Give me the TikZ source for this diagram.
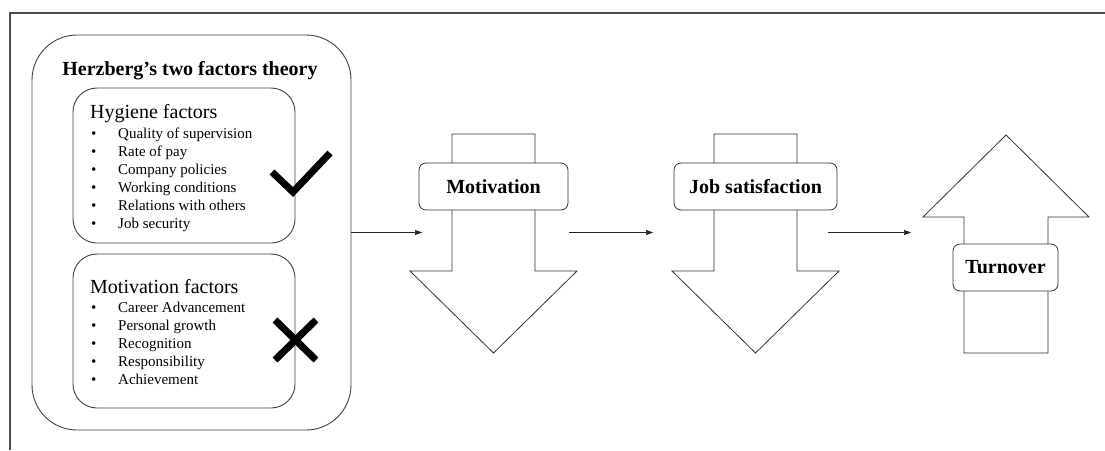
\documentclass[tikz,border=0pt]{standalone}
\usepackage{fontspec}
\setmainfont{Liberation Serif}
\usetikzlibrary{arrows.meta}
\begin{document}
\begin{tikzpicture}[x=1pt,y=-1pt,
  frame/.style={draw=black!70,line width=1.4pt},
  outer/.style={draw=black!75,line width=0.9pt,rounded corners=45pt,minimum width=319pt,minimum height=395pt,inner sep=0pt},
  fbox/.style={draw=black!75,line width=0.9pt,rounded corners=24pt,minimum width=222pt,minimum height=155pt,inner sep=0pt},
  bigarr/.style={draw=black!80,line width=0.8pt,fill=white},
  lbl/.style={draw=black!80,line width=0.8pt,fill=white,rounded corners=7pt,font=\fontsize{20}{24}\selectfont\bfseries,minimum height=47pt,inner sep=0pt},
  head/.style={anchor=base west,inner sep=0pt,font=\fontsize{20}{24}\selectfont},
  item/.style={anchor=base west,inner sep=0pt,font=\fontsize{15}{18}\selectfont},
  link/.style={-{Triangle[length=7pt,width=5pt]},black!85,line width=0.6pt},
  tickmark/.style={line width=7pt}]
  \useasboundingbox (0,0) rectangle (1105,450);
  % frame
  \draw[frame] (1105,13) -- (10,13) -- (10,450);
  % Herzberg block
  \node[outer] (herz) at (191.5,232.5){};
  \node[anchor=base,inner sep=0pt,font=\fontsize{20}{24}\selectfont\bfseries] (title) at (190,75){Herzberg’s two factors theory};
  \node[fbox] (hyg) at (184,165.5){};
  \node[fbox,minimum height=154pt] (mot) at (184,331){};
  \node[head] (hyghead) at (90,118.5){Hygiene factors};
  \foreach \txt [count=\i] in {Quality of supervision,Rate of pay,Company policies,Working conditions,Relations with others,Job security}{
    \node[item] (hb\i) at (91,120.5+18*\i){\textbullet};
    \node[item] (h\i) at (118,120.5+18*\i){\txt};
  }
  \node[head] (mothead) at (90,293){Motivation factors};
  \foreach \txt [count=\i] in {Career Advancement,Personal growth,Recognition,Responsibility,Achievement}{
    \node[item] (mb\i) at (91,294.5+18*\i){\textbullet};
    \node[item] (m\i) at (118,294.5+18*\i){\txt};
  }
  \draw[tickmark] (272,172) -- (293,192) -- (330,153);
  \draw[tickmark] (275,320) -- (316,360) (316,320) -- (275,360);
  % big arrows
  \foreach \cx in {493.5,755.5}{
    \draw[bigarr] (\cx-41.5,134) -- (\cx+41.5,134) -- (\cx+41.5,271) -- (\cx+83.5,271) -- (\cx,353) -- (\cx-83.5,271) -- (\cx-41.5,271) -- cycle;
  }
  \draw[bigarr] (964,353) -- (1048,353) -- (1048,217) -- (1089,217) -- (1006,135) -- (923,217) -- (964,217) -- cycle;
  \node[lbl,minimum width=149pt] (motiv) at (493.5,186.5){Motivation};
  \node[lbl,minimum width=163pt] (jobsat) at (755.5,186.5){Job satisfaction};
  \node[lbl,minimum width=105pt] (turn) at (1005.5,267.5){Turnover};
  % connectors
  \coordinate (motin) at (422,232.5);
  \coordinate (motout) at (569,232.5);
  \coordinate (jobin) at (653,232.5);
  \coordinate (jobout) at (828,232.5);
  \coordinate (turnin) at (911,232.5);
  \draw[link] (herz.east) -- (motin);
  \draw[link] (motout) -- (jobin);
  \draw[link] (jobout) -- (turnin);
\end{tikzpicture}
\end{document}
